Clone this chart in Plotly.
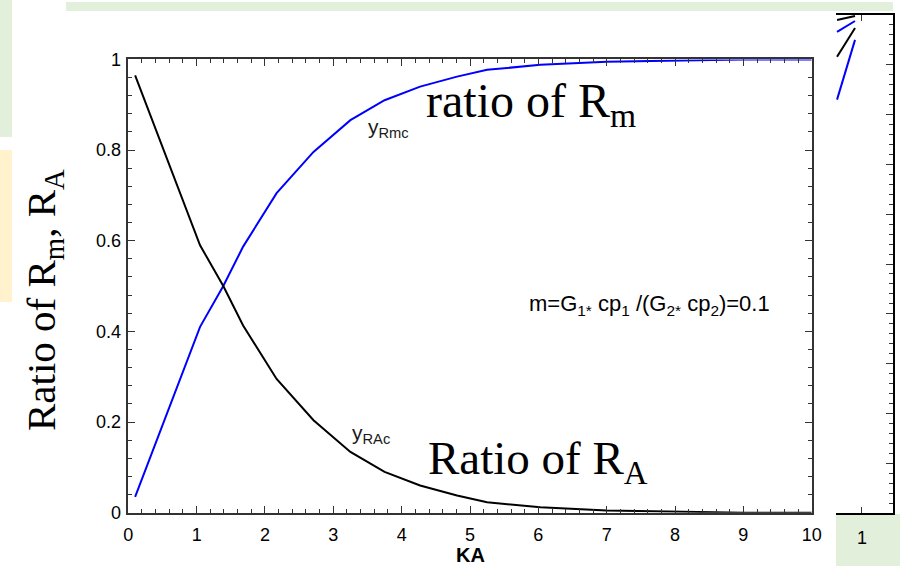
import plotly.graph_objects as go

# ---- data ----
ka = [0.1, 1.05, 1.39, 1.68, 2.17, 2.71, 3.25, 3.75, 4.27, 4.81, 5.25, 6.03, 7.0, 8.0, 9.0, 10.0]
y_rm = [0.035, 0.41, 0.50, 0.587, 0.705, 0.796, 0.866, 0.91, 0.94, 0.962, 0.977, 0.988, 0.995, 0.998, 1.0, 1.0]
y_ra = [0.965, 0.59, 0.50, 0.413, 0.295, 0.204, 0.134, 0.09, 0.06, 0.038, 0.023, 0.012, 0.005, 0.002, 0.0, 0.0]

# fragment of a neighbouring chart at the right edge
frag_x = [0.52, 0.867]
frag_blue_a = [0.83, 0.95]
frag_blue_b = [0.966, 0.988]
frag_black_a = [0.916, 0.974]
frag_black_b = [0.99, 0.998]

x_ticks = list(range(0, 11))
y_ticks = [0, 0.2, 0.4, 0.6, 0.8, 1]
y_tick_text = ["0", "0.2", "0.4", "0.6", "0.8", "1"]

W, H = 900, 566
def px(x):
    return x / W
def py(y):
    return (H - y) / H

SANS = "Liberation Sans, Arial, sans-serif"
SERIF = "Liberation Serif, Times New Roman, serif"
AX = "#333333"

fig = go.Figure()
fig.add_trace(go.Scatter(x=ka, y=y_rm, mode="lines", line=dict(color="#0000ff", width=2), xaxis="x", yaxis="y"))
fig.add_trace(go.Scatter(x=ka, y=y_ra, mode="lines", line=dict(color="#000000", width=2), xaxis="x", yaxis="y"))

for ys, c in [(frag_blue_a, "#0000ff"), (frag_blue_b, "#0000ff"), (frag_black_a, "#000000"), (frag_black_b, "#000000")]:
    fig.add_trace(go.Scatter(x=frag_x, y=ys, mode="lines", line=dict(color=c, width=2), xaxis="x2", yaxis="y2"))

shapes = [
    dict(type="rect", xref="paper", yref="paper", x0=px(66), x1=px(893), y0=py(11), y1=py(2),
         fillcolor="#e2efda", line=dict(width=0), layer="below"),
    dict(type="rect", xref="paper", yref="paper", x0=px(0), x1=px(12), y0=py(137), y1=py(0),
         fillcolor="#e2efda", line=dict(width=0), layer="below"),
    dict(type="rect", xref="paper", yref="paper", x0=px(0), x1=px(12), y0=py(302), y1=py(150),
         fillcolor="#fff2cc", line=dict(width=0), layer="below"),
    dict(type="rect", xref="paper", yref="paper", x0=px(836), x1=px(900), y0=py(566), y1=py(514),
         fillcolor="#e2efda", line=dict(width=0), layer="below"),
]

annotations = [
    dict(text="ratio of R<sub>m</sub>", x=px(424), y=py(104), xref="paper", yref="paper",
         xanchor="left", yanchor="middle", showarrow=False,
         font=dict(family=SERIF, size=48, color="#000")),
    dict(text="Ratio of R<sub>A</sub>", x=px(426), y=py(461), xref="paper", yref="paper",
         xanchor="left", yanchor="middle", showarrow=False,
         font=dict(family=SERIF, size=47, color="#000")),
    dict(text="y<sub>Rmc</sub>", x=px(366), y=py(128), xref="paper", yref="paper",
         xanchor="left", yanchor="middle", showarrow=False,
         font=dict(family=SANS, size=21, color="#1a1a1a")),
    dict(text="y<sub>RAc</sub>", x=px(350), y=py(434), xref="paper", yref="paper",
         xanchor="left", yanchor="middle", showarrow=False,
         font=dict(family=SANS, size=21, color="#1a1a1a")),
    dict(text="m=G<sub>1*</sub> cp<sub>1</sub> /(G<sub>2*</sub> cp<sub>2</sub>)=0.1", x=px(527), y=py(305),
         xref="paper", yref="paper", xanchor="left", yanchor="middle", showarrow=False,
         font=dict(family=SANS, size=22, color="#000")),
    dict(text="<b>KA</b>", x=px(470), y=py(555), xref="paper", yref="paper",
         xanchor="center", yanchor="middle", showarrow=False,
         font=dict(family=SANS, size=20, color="#000")),
    dict(text="Ratio of R<sub>m</sub>, R<sub>A</sub>", x=px(44), y=py(300), xref="paper", yref="paper",
         xanchor="center", yanchor="middle", textangle=-90, showarrow=False,
         font=dict(family=SERIF, size=41, color="#000")),
]

fig.update_layout(
    autosize=True,
    margin=dict(l=0, r=0, t=0, b=0, autoexpand=False),
    paper_bgcolor="white", plot_bgcolor="white",
    showlegend=False,
    shapes=shapes,
    annotations=annotations,
    xaxis=dict(domain=[px(128.3), px(811.7)], range=[0, 10], tickvals=x_ticks,
               showline=True, linecolor=AX, linewidth=1.5, mirror="ticks",
               ticks="inside", ticklen=7, tickwidth=1, tickcolor=AX,
               minor=dict(ticks="inside", ticklen=4, dtick=0.2, tickcolor=AX, tickwidth=1),
               showgrid=False, zeroline=False, automargin=False,
               tickfont=dict(family=SANS, size=18, color="#000"), ticklabelstandoff=5),
    yaxis=dict(domain=[py(512.7), py(59.4)], range=[0, 1], tickvals=y_ticks, ticktext=y_tick_text,
               showline=True, linecolor=AX, linewidth=1.5, mirror="ticks",
               ticks="inside", ticklen=7, tickwidth=1, tickcolor=AX,
               minor=dict(ticks="inside", ticklen=4, dtick=0.04, tickcolor=AX, tickwidth=1),
               showgrid=False, zeroline=False, automargin=False,
               tickfont=dict(family=SANS, size=18, color="#000"), ticklabelstandoff=2),
    xaxis2=dict(domain=[px(836), px(893)], range=[0.5, 1.6], anchor="y2", tickvals=[1],
                showline=True, linecolor="#000", linewidth=1.5, mirror="ticks",
                ticks="inside", ticklen=6, tickcolor=AX, showgrid=False, zeroline=False,
                automargin=False,
                tickfont=dict(family=SANS, size=18, color="#000"), ticklabelstandoff=8),
    yaxis2=dict(domain=[py(513), py(15)], range=[0, 1], anchor="x2", side="right",
                showline=True, linecolor="#000", linewidth=1.5, mirror=False,
                ticks="inside", ticklen=7, tickcolor=AX, dtick=0.1,
                minor=dict(ticks="inside", ticklen=4, dtick=0.02, tickcolor=AX),
                showticklabels=False, showgrid=False, zeroline=False, automargin=False),
)

fig.write_html(
    "out.html",
    default_width="100%",
    default_height="100%",
    config={"displayModeBar": False, "responsive": True},
    post_script=(
        "document.documentElement.style.height='100%';"
        "document.documentElement.style.overflow='hidden';"
        "document.body.style.height='100%';"
        "document.body.style.margin='0';"
        "document.body.style.overflow='hidden';"
        "var gd=document.getElementById('{plot_id}');"
        "gd.parentElement.style.height='100%';"
        "Plotly.Plots.resize(gd);"
    ),
)
